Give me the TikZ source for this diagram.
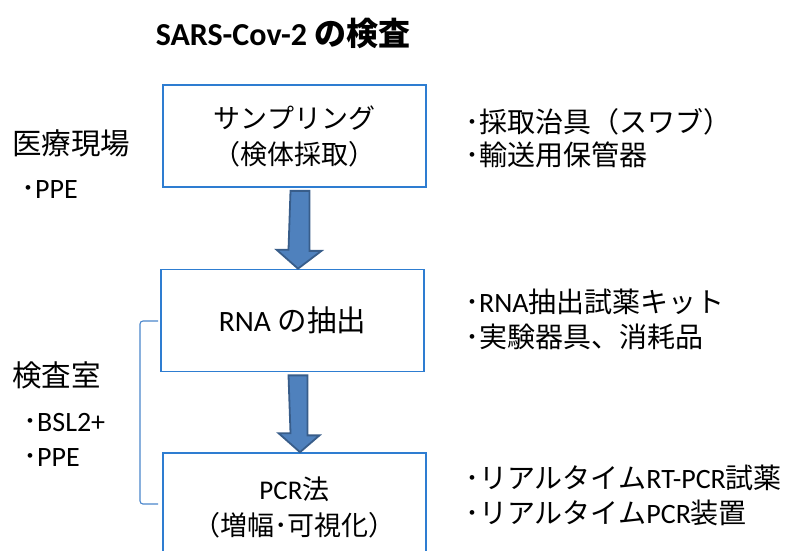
\documentclass[tikz,border=0pt]{standalone}
\usepackage{fontspec}
\setmainfont{Carlito}
\newfontfamily\jp{Noto Sans CJK JP}
\usetikzlibrary{calc}
\definecolor{boxblue}{HTML}{2E7DD1}
\definecolor{arrfill}{HTML}{4F81BD}
\definecolor{arrline}{HTML}{385D8A}
\definecolor{brkblue}{HTML}{4A86CC}
\tikzset{
  stepbox/.style={draw=boxblue, line width=1.7pt, minimum width=263pt, minimum height=102pt,
    align=center, inner sep=0pt, font=\fontsize{27}{36}\selectfont},
  bigarrow/.style={fill=arrfill, draw=arrline, line width=1.8pt, line join=miter},
  txt/.style={inner sep=0pt, font=\fontsize{28}{30}\selectfont},
  head/.style={inner sep=0pt, font=\fontsize{29.5}{32}\selectfont},
  bracket/.style={draw=brkblue, line width=1.1pt, rounded corners=3pt},
}
\newcommand\flowarrow[2]{%
  \path[bigarrow] ($(#1.south)+(-4,3)$) -- ++(19,0) -- ++(0,60) -- ++(12,0)
    -- ($(#2.north)+(5.5,0)$) -- ++(-21.5,-19) -- ++(12,0) -- cycle;}
\begin{document}
\begin{tikzpicture}[x=1pt,y=-1pt]
\useasboundingbox (0,0) rectangle (785,550);
\clip (0,0) rectangle (785,550);
\fill[white] (0,0) rectangle (785,550);
% title
\node[inner sep=0pt, font=\fontsize{32}{36}\selectfont\bfseries] (title) at (283,33)
  {SARS-Cov-2 {\jp\bfseries の検査}};
% boxes
\node[stepbox] (b1) at (294.5,136) {{\jp サンプリング}\\{\jp （検体採取）}};
\node[stepbox, font=\fontsize{29.5}{36}\selectfont] (b2) at (292.5,320.5) {RNA {\jp の抽出}};
\node[stepbox, minimum height=108pt] (b3) at (294.5,507) {PCR{\jp 法}\\{\jp （増幅･可視化）}};
% arrows
\flowarrow{b1}{b2}
\flowarrow{b2}{b3}
% bracket
\coordinate (bt) at (158,321);
\coordinate (bb) at (158,504);
\draw[bracket] (bt) -- (140,321) -- (140,504) -- (bb);
% left labels
\node[head, anchor=west] (l1) at (12,143) {\jp 医療現場};
\node[txt, anchor=west] (l1a) at (21,190) {{\jp ･}PPE};
\node[head, anchor=west] (l2) at (12,375) {\jp 検査室};
\node[txt, anchor=west] (l2a) at (23,423) {{\jp ･}BSL2+};
\node[txt, anchor=west] (l2b) at (23,458) {{\jp ･}PPE};
% right labels
\node[txt, anchor=west] (r1) at (465,122) {\jp ･採取治具（スワブ）};
\node[txt, anchor=west] (r2) at (465,155) {\jp ･輸送用保管器};
\node[txt, anchor=west] (r3) at (465,302) {{\jp ･}RNA{\jp 抽出試薬キット}};
\node[txt, anchor=west] (r4) at (465,337) {\jp ･実験器具、消耗品};
\node[txt, anchor=west] (r5) at (465,478) {{\jp ･リアルタイム}RT-PCR{\jp 試薬}};
\node[txt, anchor=west] (r6) at (465,513) {{\jp ･リアルタイム}PCR{\jp 装置}};
\end{tikzpicture}
\end{document}
